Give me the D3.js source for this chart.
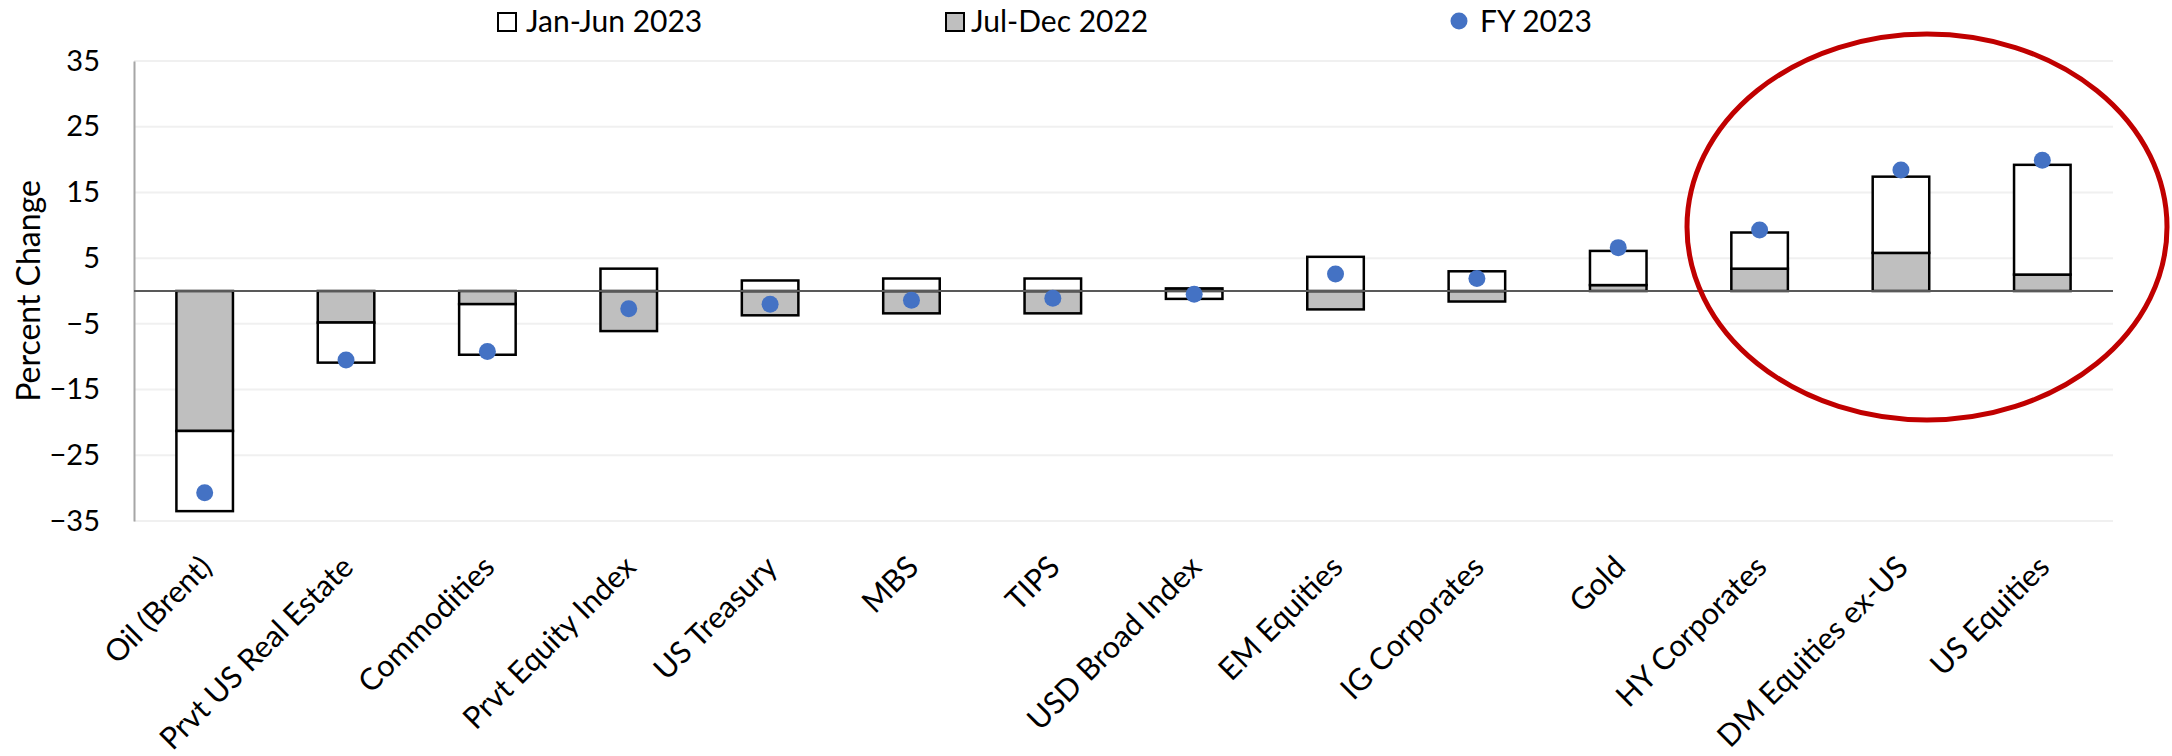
<!DOCTYPE html>
<html>
<head>
<meta charset="utf-8">
<script src="https://cdn.jsdelivr.net/npm/d3@7"></script>
<style>
  html, body { margin: 0; padding: 0; background: #ffffff; }
  svg { display: block; font-family: Lato, "Open Sans", sans-serif; }
</style>
</head>
<body>
<svg id="chart" width="2172" height="756"></svg>
<script>
// Asset classes, ordered from worst to best fiscal-year performance
const categories = [
  "Oil (Brent)", "Prvt US Real Estate", "Commodities", "Prvt Equity Index",
  "US Treasury", "MBS", "TIPS", "USD Broad Index", "EM Equities",
  "IG Corporates", "Gold", "HY Corporates", "DM Equities ex-US", "US Equities"
];
// Percent change, second half of 2022
const julDec2022 = [-21.3, -4.8, -2.0, -6.1, -3.7, -3.4, -3.4, 0.4, -2.8, -1.6, 0.9, 3.4, 5.8, 2.5];
// Percent change, first half of 2023
const janJun2023 = [-12.2, -6.1, -7.7, 3.4, 1.6, 1.9, 1.9, -1.2, 5.2, 3.0, 5.2, 5.5, 11.6, 16.7];
// Percent change over fiscal year 2023
const fy2023 = [-30.7, -10.5, -9.2, -2.7, -2.0, -1.4, -1.1, -0.5, 2.6, 1.9, 6.6, 9.3, 18.4, 19.9];
// Value axis ticks
const yTicks = [-35, -25, -15, -5, 5, 15, 25, 35];

const seriesNames = ["Jan-Jun 2023", "Jul-Dec 2022", "FY 2023"];

const rows = categories.map((c, i) => ({ cat: c, jul: julDec2022[i], jan: janJun2023[i], fy: fy2023[i] }));

const svg = d3.select("#chart");
const plotLeft = 134, plotRight = 2113, plotTop = 61, plotBottom = 521;

const x = d3.scaleBand().domain(categories).range([plotLeft, plotRight]).paddingInner(0.6).paddingOuter(0.3);
const y = d3.scaleLinear().domain([-35, 35]).range([plotBottom, plotTop]);

// Horizontal gridlines
svg.append("g").selectAll("line").data(yTicks).join("line")
  .attr("x1", plotLeft).attr("x2", plotRight)
  .attr("y1", d => y(d)).attr("y2", d => y(d))
  .attr("stroke", "#f0f0f0").attr("stroke-width", 2);

// Value axis
const yAxis = svg.append("g").attr("transform", `translate(${plotLeft},0)`)
  .call(d3.axisLeft(y).tickValues(yTicks).tickSize(0).tickPadding(34));
yAxis.select(".domain").attr("stroke", "#a6a6a6").attr("stroke-width", 2);
yAxis.selectAll("text").attr("font-size", 29).attr("fill", "#000").attr("font-family", "Lato");

// Axis title, centred on the zero line
svg.append("text")
  .attr("transform", `translate(40,${y(0)}) rotate(-90)`)
  .attr("text-anchor", "middle")
  .attr("font-size", 32)
  .text("Percent Change");

// Stacked bars: positive and negative parts stack away from zero separately
const stack = d3.stack().keys(["jul", "jan"]).offset(d3.stackOffsetDiverging);
const layers = stack(rows);
const fills = { jul: "#bfbfbf", jan: "#ffffff" };

svg.append("g").selectAll("g").data(layers).join("g")
  .attr("fill", d => fills[d.key])
  .selectAll("rect").data(d => d).join("rect")
  .attr("x", d => x(d.data.cat))
  .attr("width", x.bandwidth())
  .attr("y", d => y(Math.max(d[0], d[1])))
  .attr("height", d => Math.abs(y(d[0]) - y(d[1])))
  .attr("stroke", "#000").attr("stroke-width", 2.5);

// Zero line
svg.append("line")
  .attr("x1", plotLeft).attr("x2", plotRight)
  .attr("y1", y(0)).attr("y2", y(0))
  .attr("stroke", "#595959").attr("stroke-width", 2);

// Fiscal-year markers
svg.append("g").selectAll("circle").data(rows).join("circle")
  .attr("cx", d => x(d.cat) + x.bandwidth() / 2)
  .attr("cy", d => y(d.fy))
  .attr("r", 8.5)
  .attr("fill", "#4472c4");

// Category labels, slanted
svg.append("g").selectAll("text").data(categories).join("text")
  .attr("transform", d => `translate(${x(d) + x.bandwidth() / 2 + 9},${plotBottom + 48}) rotate(-45)`)
  .attr("text-anchor", "end")
  .attr("font-size", 30.5)
  .text(d => d);

// Legend
const legend = svg.append("g");
legend.append("rect").attr("x", 498).attr("y", 13).attr("width", 18).attr("height", 18)
  .attr("fill", "#fff").attr("stroke", "#000").attr("stroke-width", 2);
legend.append("text").attr("x", 526).attr("y", 32).attr("font-size", 30).text(seriesNames[0]);
legend.append("rect").attr("x", 946).attr("y", 13).attr("width", 18).attr("height", 18)
  .attr("fill", "#bfbfbf").attr("stroke", "#000").attr("stroke-width", 2);
legend.append("text").attr("x", 971).attr("y", 32).attr("font-size", 30).text(seriesNames[1]);
legend.append("circle").attr("cx", 1459).attr("cy", 21).attr("r", 8.5).attr("fill", "#4472c4");
legend.append("text").attr("x", 1480).attr("y", 32).attr("font-size", 30).text(seriesNames[2]);

// Highlight around the equity and high-yield group
svg.append("ellipse")
  .attr("cx", 1927).attr("cy", 227).attr("rx", 240).attr("ry", 193)
  .attr("fill", "none").attr("stroke", "#c00000").attr("stroke-width", 5);
</script>
</body>
</html>
